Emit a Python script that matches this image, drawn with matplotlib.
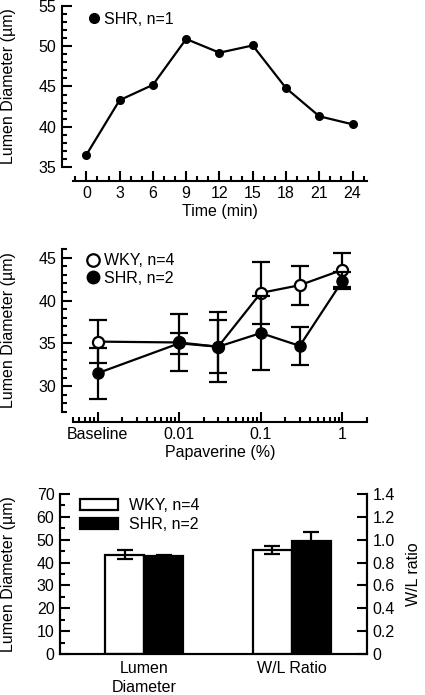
import numpy as np
import matplotlib
matplotlib.use('Agg')
import matplotlib.pyplot as plt
from matplotlib.ticker import MultipleLocator, FixedLocator, FixedFormatter, NullFormatter
from matplotlib.lines import Line2D
from matplotlib.patches import Patch

plt.rcParams['font.family'] = ['Liberation Sans', 'DejaVu Sans']
plt.rcParams['font.size'] = 11.5

# panel 1: time course, SHR n=1
time_min = [0, 3, 6, 9, 12, 15, 18, 21, 24]
shr_time = [36.5, 43.3, 45.2, 50.9, 49.2, 50.1, 44.8, 41.3, 40.3]

# panel 2: papaverine dose response
pap_pos = [0.001, 0.01, 0.03, 0.1, 0.3, 1]   # baseline drawn one decade below 0.01
pap_ticks = [0.001, 0.01, 0.1, 1]
pap_labels = ['Baseline', '0.01', '0.1', '1']
wky_pap = [35.2, 35.1, 34.6, 40.9, 41.8, 43.6]
wky_pap_err = [2.5, 3.3, 4.1, 3.6, 2.3, 2.0]
shr_pap = [31.5, 35.0, 34.6, 36.2, 34.7, 42.3]
shr_pap_err = [3.0, 1.2, 3.1, 4.3, 2.2, 1.0]

# panel 3: bars
groups = ['Lumen\nDiameter', 'W/L Ratio']
wky_lumen, wky_lumen_err = 43.5, 2.0
shr_lumen, shr_lumen_err = 42.8, 0.5
wky_wl, wky_wl_err = 0.91, 0.035
shr_wl, shr_wl_err = 0.99, 0.08

W, H = 425, 695
fig = plt.figure(figsize=(W / 100, H / 100), dpi=100)


def box(x0, y0, x1, y1):
    return [x0 / W, 1 - y1 / H, (x1 - x0) / W, (y1 - y0) / H]


LW = 1.5


def style_axis(ax, left_out, bottom_out):
    for s in ['top', 'right']:
        ax.spines[s].set_visible(False)
    ax.spines['left'].set_position(('outward', left_out))
    ax.spines['bottom'].set_position(('outward', bottom_out))
    for s in ['left', 'bottom']:
        ax.spines[s].set_linewidth(LW)
    ax.tick_params(which='both', direction='in', width=LW, pad=4)
    ax.tick_params(which='major', length=7.5)
    ax.tick_params(which='minor', length=3.8)


# ---- panel 1
ax1 = fig.add_axes(box(73, 6, 367, 167))
ax1.plot(time_min, shr_time, color='black', lw=1.6, marker='o', ms=5.5,
         mfc='black', mec='black', clip_on=False)
ax1.set_xlim(-1.2, 25.3)
ax1.set_ylim(35, 55)
ax1.xaxis.set_major_locator(MultipleLocator(3))
ax1.xaxis.set_minor_locator(MultipleLocator(1))
ax1.yaxis.set_major_locator(MultipleLocator(5))
ax1.yaxis.set_minor_locator(MultipleLocator(1))
style_axis(ax1, 8, 10)
ax1.set_xlabel('Time (min)', labelpad=2)
ax1.set_ylabel('Lumen Diameter (µm)')
ax1.yaxis.set_label_coords((16 - 73) / 294, 0.5)
ax1.legend(handles=[Line2D([], [], ls='none', marker='o', ms=7, color='black')],
           labels=['SHR, n=1'], loc='upper left', bbox_to_anchor=(0.055, 0.965),
           frameon=False, handlelength=0.6, handletextpad=0.35, borderpad=0,
           borderaxespad=0)

# ---- panel 2
ax2 = fig.add_axes(box(73, 249.3, 367, 411.7))
ax2.set_xscale('log')
ax2.errorbar(pap_pos, wky_pap, yerr=wky_pap_err, color='black', lw=1.6,
             elinewidth=1.6, capsize=6.5, capthick=1.6, marker='o', ms=8,
             mfc='white', mec='black', mew=1.6, clip_on=False, zorder=3)
ax2.errorbar(pap_pos, shr_pap, yerr=shr_pap_err, color='black', lw=1.6,
             elinewidth=1.6, capsize=6.5, capthick=1.6, marker='o', ms=8,
             mfc='black', mec='black', clip_on=False, zorder=4)
ax2.set_xlim(0.0005, 2)
ax2.set_ylim(27, 46)
ax2.xaxis.set_major_locator(FixedLocator(pap_ticks))
ax2.xaxis.set_major_formatter(FixedFormatter(pap_labels))
minor = [m * 10.0 ** e for e in range(-4, 1) for m in range(2, 10)]
ax2.xaxis.set_minor_locator(FixedLocator(minor))
ax2.xaxis.set_minor_formatter(NullFormatter())
ax2.yaxis.set_major_locator(MultipleLocator(5))
ax2.yaxis.set_minor_locator(MultipleLocator(1))
style_axis(ax2, 8, 7.2)
ax2.set_xlabel('Papaverine (%)', labelpad=2)
ax2.set_ylabel('Lumen Diameter (µm)')
ax2.yaxis.set_label_coords((16 - 73) / 294, 0.5)
ax2.legend(handles=[Line2D([], [], ls='none', marker='o', ms=9, mfc='white',
                           mec='black', mew=1.6),
                    Line2D([], [], ls='none', marker='o', ms=9, color='black')],
           labels=['WKY, n=4', 'SHR, n=2'], loc='upper left',
           bbox_to_anchor=(0.05, 0.975), frameon=False, handlelength=0.7,
           handletextpad=0.35, borderpad=0, borderaxespad=0, labelspacing=0.15)

# ---- panel 3
ax3 = fig.add_axes(box(60, 494, 367, 654))
ax3r = ax3.twinx()
bw = 0.265
x = np.arange(len(groups))
ax3.bar(x[0] - bw / 2, wky_lumen, bw, yerr=wky_lumen_err, color='white',
        edgecolor='black', lw=1.6, capsize=5.5,
        error_kw=dict(elinewidth=1.6, capthick=1.6, ecolor='black'))
ax3.bar(x[0] + bw / 2, shr_lumen, bw, yerr=shr_lumen_err, color='black',
        edgecolor='black', lw=1.6, capsize=5.5,
        error_kw=dict(elinewidth=1.6, capthick=1.6, ecolor='black'))
ax3r.bar(x[1] - bw / 2, wky_wl, bw, yerr=wky_wl_err, color='white',
         edgecolor='black', lw=1.6, capsize=5.5,
         error_kw=dict(elinewidth=1.6, capthick=1.6, ecolor='black'))
ax3r.bar(x[1] + bw / 2, shr_wl, bw, yerr=shr_wl_err, color='black',
         edgecolor='black', lw=1.6, capsize=5.5,
         error_kw=dict(elinewidth=1.6, capthick=1.6, ecolor='black'))
ax3.set_xlim(-0.572, 1.511)
ax3.set_ylim(0, 70)
ax3r.set_ylim(0, 1.4)
ax3.set_xticks(x)
ax3.set_xticklabels(groups, linespacing=1.3)
ax3.yaxis.set_major_locator(MultipleLocator(10))
ax3.yaxis.set_minor_locator(MultipleLocator(5))
ax3r.yaxis.set_major_locator(MultipleLocator(0.2))
ax3r.yaxis.set_major_formatter(
    matplotlib.ticker.FuncFormatter(lambda v, p: '0' if abs(v) < 1e-9 else f'{v:.1f}'))
for a in (ax3, ax3r):
    a.spines['top'].set_visible(False)
    for s in ['left', 'right', 'bottom']:
        a.spines[s].set_linewidth(LW)
ax3.tick_params(axis='y', which='both', direction='in', width=LW, pad=4)
ax3.tick_params(axis='y', which='major', length=7.5)
ax3.tick_params(axis='y', which='minor', length=3.8)
ax3.tick_params(axis='x', length=0, pad=5)
ax3r.tick_params(axis='y', direction='in', width=LW, length=7.5, pad=4)
ax3.set_ylabel('Lumen Diameter (µm)')
ax3.yaxis.set_label_coords((16 - 60) / 307, 0.5)
ax3r.set_ylabel('W/L ratio')
ax3r.yaxis.set_label_coords((406 - 60) / 307, 0.5)
ax3r.legend(handles=[Patch(facecolor='white', edgecolor='black', lw=1.6),
                     Patch(facecolor='black', edgecolor='black', lw=1.6)],
            labels=['WKY, n=4', 'SHR, n=2'], loc='upper left',
            bbox_to_anchor=(0.065, 0.975), frameon=False, handlelength=2.4,
            handleheight=0.75, handletextpad=0.7, borderpad=0, borderaxespad=0,
            labelspacing=0.25)

fig.savefig('out.png', dpi=100)
